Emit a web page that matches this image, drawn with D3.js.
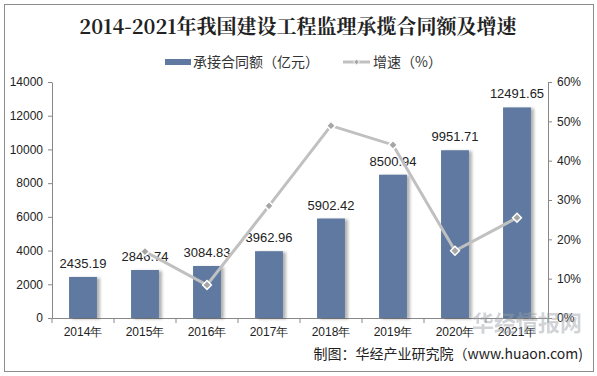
<!DOCTYPE html>
<html>
<head>
<meta charset="utf-8">
<script src="https://cdn.jsdelivr.net/npm/d3@7"></script>
<style>
body{margin:0;background:#fff;}
#chart{width:597px;height:376px;}
.axis text{font-family:Arial,"Liberation Sans",sans-serif;font-size:12px;fill:#222;}
.axis path,.axis line{stroke:#888;}
</style>
</head>
<body>
<div id="chart"></div>
<script>
var years=["2014年","2015年","2016年","2017年","2018年","2019年","2020年","2021年"];
var amount=[2435.19,2846.74,3084.83,3962.96,5902.42,8500.94,9951.71,12491.65];
var growth=[null,16.9,8.4,28.5,48.9,44.0,17.1,25.5];
var leftTicks=[0,2000,4000,6000,8000,10000,12000,14000];
var rightTicks=[0,10,20,30,40,50,60];

var width=597,height=376;
var padL=52,padR=548,padT=82,padB=318;

var svg=d3.select("#chart").append("svg")
    .attr("width",width)
    .attr("height",height);

svg.append("rect")
    .attr("x",4.5).attr("y",4.5)
    .attr("width",589).attr("height",367)
    .attr("fill","#fff").attr("stroke","#8c8c8c");

var defs=svg.append("defs");
var f=defs.append("filter").attr("id","shadow").attr("x","-20%").attr("width","150%");
f.append("feDropShadow").attr("dx",3).attr("dy",1).attr("stdDeviation",1.5)
    .attr("flood-color","#000").attr("flood-opacity",0.3);

svg.append("text")
    .attr("x",298).attr("y",34)
    .attr("text-anchor","middle")
    .attr("font-family","'Noto Serif CJK SC','DejaVu Serif',serif")
    .attr("font-weight","bold")
    .attr("font-size",20)
    .attr("fill","#222")
    .text("2014-2021年我国建设工程监理承揽合同额及增速");

var xScale=d3.scaleBand()
    .domain(years)
    .range([padL,padR])
    .paddingInner(0.55)
    .paddingOuter(0.275);

var yScale=d3.scaleLinear().domain([0,14000]).range([padB,padT]);
var y2Scale=d3.scaleLinear().domain([0,60]).range([padB,padT]);

// legend
var lg=svg.append("g").attr("font-family","'Noto Sans CJK SC',sans-serif").attr("font-size",14).attr("fill","#333");
lg.append("rect").attr("x",165).attr("y",59).attr("width",26).attr("height",6).attr("fill","#5f79a0");
lg.append("text").attr("x",193).attr("y",67).text("承接合同额（亿元）");
lg.append("line").attr("x1",343).attr("x2",370).attr("y1",62).attr("y2",62).attr("stroke","#c0c0c0").attr("stroke-width",3);
lg.append("path").attr("d",d3.symbol(d3.symbolDiamond2,22)()).attr("transform","translate(356.5,62)").attr("fill","#a6a6a6").attr("stroke","#fff");
lg.append("text").attr("x",373).attr("y",67).text("增速（%）");

// axes
svg.append("g")
    .attr("class","axis")
    .attr("transform","translate("+padL+",0)")
    .call(d3.axisLeft(yScale).tickValues(leftTicks).tickSize(4).tickPadding(5).tickSizeOuter(0)
      .tickFormat(d3.format("d")));

svg.append("g")
    .attr("class","axis")
    .attr("transform","translate("+padR+",0)")
    .call(d3.axisRight(y2Scale).tickValues(rightTicks).tickSize(4).tickPadding(5).tickSizeOuter(0)
      .tickFormat(function(d){return d+"%";}));

var step=xScale.step();
var xAxisG=svg.append("g")
    .attr("class","axis")
    .attr("transform","translate(0,"+padB+")")
    .call(d3.axisBottom(xScale).tickSize(0).tickPadding(9).tickSizeOuter(0));
xAxisG.selectAll("text").attr("font-size",13);
xAxisG.selectAll(".sep")
    .data(d3.range(years.length+1))
    .enter().append("line")
    .attr("x1",function(i){return padL+i*step;})
    .attr("x2",function(i){return padL+i*step;})
    .attr("y1",0).attr("y2",5)
    .attr("stroke","#888");

// bars
svg.selectAll(".bar")
    .data(amount)
    .enter().append("rect")
    .attr("class","bar")
    .attr("x",function(d,i){return xScale(years[i]);})
    .attr("y",function(d){return yScale(d);})
    .attr("width",xScale.bandwidth())
    .attr("height",function(d){return padB-yScale(d);})
    .attr("fill","#5f79a0")
    .attr("filter","url(#shadow)");

svg.selectAll(".blabel")
    .data(amount)
    .enter().append("text")
    .attr("class","blabel")
    .attr("x",function(d,i){return xScale(years[i])+xScale.bandwidth()/2;})
    .attr("y",function(d){return yScale(d)-9;})
    .attr("text-anchor","middle")
    .attr("font-family","Arial,'Liberation Sans',sans-serif")
    .attr("font-size",13)
    .attr("fill","#222")
    .text(function(d){return d.toFixed(2);});

// line
var pts=[];
for(var i=0;i<years.length;i++){
  if(growth[i]!=null) pts.push([xScale(years[i])+xScale.bandwidth()/2,y2Scale(growth[i])]);
}
svg.append("path")
    .attr("d",d3.line()(pts))
    .attr("fill","none")
    .attr("stroke","#c0c0c0")
    .attr("stroke-width",3);

svg.selectAll(".mk")
    .data(pts)
    .enter().append("path")
    .attr("class","mk")
    .attr("d",d3.symbol(d3.symbolDiamond2,50)())
    .attr("transform",function(d){return "translate("+d[0]+","+d[1]+")";})
    .attr("fill","#a6a6a6")
    .attr("stroke","#fff")
    .attr("stroke-width",1.5);

// watermark
svg.append("text")
    .attr("x",582).attr("y",331)
    .attr("text-anchor","end")
    .attr("font-family","'Noto Sans CJK SC',sans-serif")
    .attr("font-weight","bold")
    .attr("font-size",22)
    .attr("fill","#9aa0a8")
    .attr("opacity",0.45)
    .text("华经情报网");

// source
svg.append("text")
    .attr("x",583).attr("y",359)
    .attr("text-anchor","end")
    .attr("font-family","'Noto Sans CJK SC',sans-serif")
    .attr("font-size",14)
    .attr("fill","#222")
    .text("制图：华经产业研究院（www.huaon.com)");
</script>
</body>
</html>
